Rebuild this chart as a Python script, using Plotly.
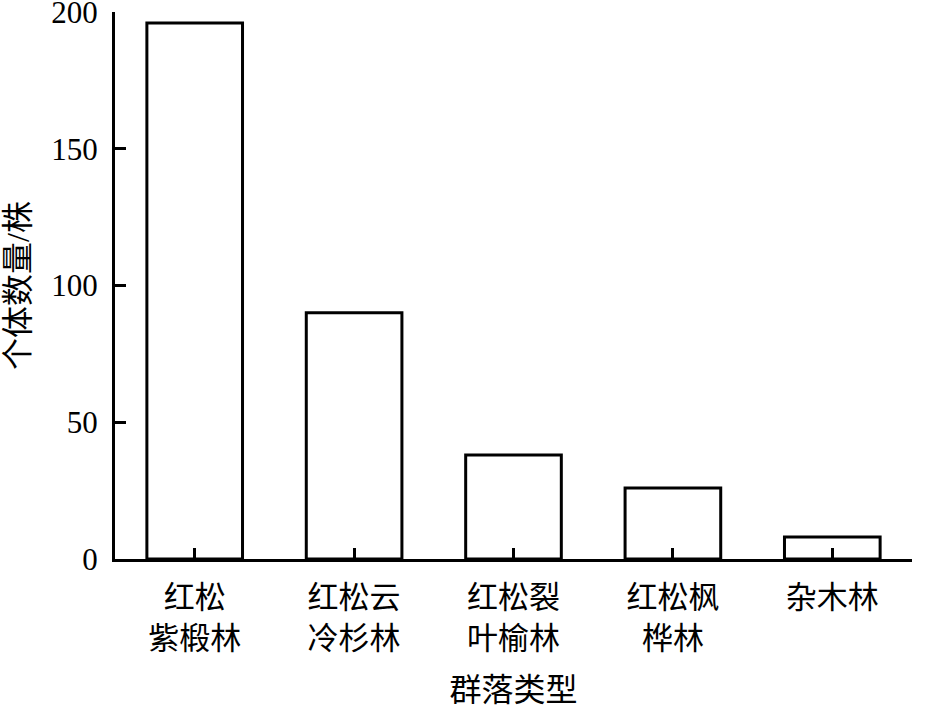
import plotly.graph_objects as go

categories = ["红松<br>紫椴林", "红松云<br>冷杉林", "红松裂<br>叶榆林", "红松枫<br>桦林", "杂木林"]
values = [196, 90, 38, 26, 8]
y_ticks = [0, 50, 100, 150, 200]

font_fam = "Liberation Serif, Times New Roman, Noto Sans CJK SC, serif"

fig = go.Figure(go.Bar(
    x=categories, y=values, width=0.6,
    marker=dict(color="white", line=dict(color="black", width=3)),
))

fig.update_layout(
    width=928, height=711,
    margin=dict(l=115, r=16, t=12, b=152),
    paper_bgcolor="white", plot_bgcolor="white",
    font=dict(family=font_fam, color="black", size=31),
    showlegend=False,
    xaxis=dict(
        showline=True, linecolor="black", linewidth=3,
        ticks="inside", ticklen=11, tickwidth=3, tickcolor="black",
        range=[-0.5, 4.5], showgrid=False, zeroline=False, automargin=False,
        tickfont=dict(size=31, family=font_fam),
        ticklabelstandoff=9,
        title=dict(text="群落类型", font=dict(size=32, family=font_fam), standoff=25),
    ),
    yaxis=dict(
        showline=True, linecolor="black", linewidth=3,
        ticks="inside", ticklen=11, tickwidth=3, tickcolor="black",
        range=[0, 200], tickvals=y_ticks, showgrid=False, zeroline=False, automargin=False,
        tickfont=dict(size=31, family=font_fam),
        ticklabelstandoff=8, ticklabeloverflow="allow",
        title=dict(text="个体数量/株", font=dict(size=32, family=font_fam), standoff=25),
    ),
)

fig.write_html(
    "out.html",
    config={"displayModeBar": False},
    post_script="document.body.style.margin='0px';",
)
